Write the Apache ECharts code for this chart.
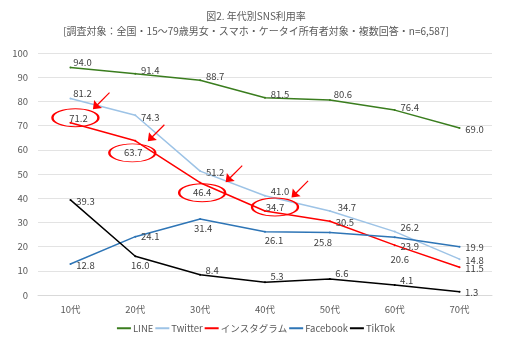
<!DOCTYPE html>
<html>
<head>
<meta charset="utf-8">
<script src="https://cdn.jsdelivr.net/npm/echarts@6/dist/echarts.min.js"></script>
<style>
  html, body { margin: 0; padding: 0; background: #fff; }
  #chart { width: 512px; height: 352px; }
</style>
</head>
<body>
<div id="chart"></div>
<script>
// data
const ages = ['10代', '20代', '30代', '40代', '50代', '60代', '70代'];
const lineVals = [94.0, 91.4, 88.7, 81.5, 80.6, 76.4, 69.0];
const twitterVals = [81.2, 74.3, 51.2, 41.0, 34.7, 26.2, 14.8];
const instaVals = [71.2, 63.7, 46.4, 34.7, 30.5, 20.6, 11.5];
const facebookVals = [12.8, 24.1, 31.4, 26.1, 25.8, 23.9, 19.9];
const tiktokVals = [39.3, 16.0, 8.4, 5.3, 6.6, 4.1, 1.3];
const yTicks = [0, 100, 10];

// where each value label sits, relative to its point (px)
const lineLab = [[12,-5],[15,-3],[15,-4],[15,-3],[13,-6],[15,-3],[15,1]];
const twitterLab = [[12,-5],[15,2],[15,1],[15,-4],[17,-4],[15,-4],[15,1]];
const instaLab = [[8,-4],[-2,12],[2,10],[10,-4],[15,1],[5,14],[15,1]];
const facebookLab = [[15,1],[15,0],[3,9],[9,9],[-7,10],[15,9],[15,1]];
const tiktokLab = [[15,1],[5,9],[12,-4],[12,-6],[12,-6],[12,-5],[12,1]];

// red circles / arrows around the Instagram values
const circled = [0, 1, 2, 3];
const circleOff = [[5,-5],[-3,12],[2,10],[10,-4]];
const arrowOff = [[31,-22],[21,-8],[34,-9],[35,-22]];

const font = '"Noto Sans CJK JP", "Noto Sans", sans-serif';
const textColor = '#595959';
const ellipsePath = 'path://M0,10 A20,10 0 1,1 40,10 A20,10 0 1,1 0,10 Z';
const arrowPath = 'path://M0,20 L1.5,9 L5.2,13.7 L19.5,-0.5 L20.5,0.5 L6.3,14.8 L11,18.5 Z';

function makeSeries(name, vals, offs, color) {
  return {
    name: name,
    type: 'line',
    data: vals.map((v, i) => ({
      value: v,
      label: { offset: offs[i] }
    })),
    symbol: 'circle',
    symbolSize: 2,
    itemStyle: { color: color },
    lineStyle: { color: color, width: 1.5 },
    label: {
      show: true,
      position: 'inside',
      formatter: p => p.value.toFixed(1),
      fontSize: 9.5,
      fontFamily: font,
      color: '#404040'
    },
    emphasis: { disabled: true },
    animation: false
  };
}

const seriesList = [
  makeSeries('LINE', lineVals, lineLab, '#3a7d1e'),
  makeSeries('Twitter', twitterVals, twitterLab, '#9dc3e6'),
  makeSeries('インスタグラム', instaVals, instaLab, '#ff0000'),
  makeSeries('Facebook', facebookVals, facebookLab, '#2e75b6'),
  makeSeries('TikTok', tiktokVals, tiktokLab, '#000000')
];

const marks = [];
circled.forEach((idx, k) => {
  marks.push({
    coord: [ages[idx], instaVals[idx]],
    symbol: ellipsePath,
    symbolSize: [46, 18],
    symbolKeepAspect: false,
    symbolOffset: circleOff[k],
    itemStyle: { color: 'rgba(0,0,0,0)', borderColor: '#ff0000', borderWidth: 1.5 }
  });
  marks.push({
    coord: [ages[idx], instaVals[idx]],
    symbol: arrowPath,
    symbolSize: [17, 17],
    symbolKeepAspect: false,
    symbolOffset: arrowOff[k],
    itemStyle: { color: '#ff0000', borderWidth: 0 }
  });
});
seriesList[2].markPoint = {
  silent: true,
  label: { show: false },
  data: marks,
  animation: false
};

const chart = echarts.init(document.getElementById('chart'));
chart.setOption({
  backgroundColor: '#fff',
  animation: false,
  title: [
    {
      text: '図2. 年代別SNS利用率',
      left: 'center',
      top: 6,
      textStyle: { fontSize: 10, fontWeight: 'normal', color: textColor, fontFamily: font }
    },
    {
      text: '[調査対象：全国・15〜79歳男女・スマホ・ケータイ所有者対象・複数回答・n=6,587]',
      left: 'center',
      top: 21,
      textStyle: { fontSize: 10, fontWeight: 'normal', color: textColor, fontFamily: font }
    }
  ],
  grid: { left: 38, right: 20, top: 53, bottom: 57 },
  legend: {
    bottom: 14,
    left: 'center',
    icon: 'rect',
    itemWidth: 14,
    itemHeight: 2,
    itemGap: 2,
    textStyle: { fontSize: 9.5, color: textColor, fontFamily: font, padding: [0, 0, 0, -3] },
    data: ['LINE', 'Twitter', 'インスタグラム', 'Facebook', 'TikTok']
  },
  xAxis: {
    type: 'category',
    data: ages,
    boundaryGap: true,
    axisLine: { lineStyle: { color: '#d9d9d9' } },
    axisTick: { show: false },
    axisLabel: { color: textColor, fontSize: 9.5, fontFamily: font, margin: 10 }
  },
  yAxis: {
    type: 'value',
    min: yTicks[0],
    max: yTicks[1],
    interval: yTicks[2],
    axisLine: { show: false },
    axisTick: { show: false },
    splitLine: { lineStyle: { color: '#e3e3e3' } },
    axisLabel: { color: textColor, fontSize: 9.5, fontFamily: font, margin: 10 }
  },
  series: seriesList
});
</script>
</body>
</html>
